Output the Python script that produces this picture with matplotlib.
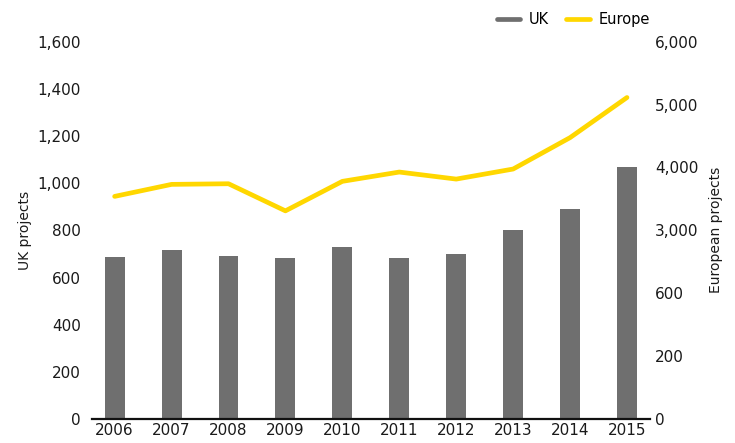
import matplotlib
matplotlib.use("Agg")
import matplotlib.pyplot as plt
from matplotlib.lines import Line2D
import numpy as np

years = ["2006", "2007", "2008", "2009", "2010", "2011", "2012", "2013", "2014", "2015"]
uk_projects = [687, 716, 691, 682, 729, 682, 699, 801, 890, 1068]
europe_projects = [3540, 3731, 3741, 3310, 3779, 3927, 3815, 3975, 4474, 5112]
left_ticks = [0, 200, 400, 600, 800, 1000, 1200, 1400, 1600]
left_labels = ["0", "200", "400", "600", "800", "1,000", "1,200", "1,400", "1,600"]
right_ticks = [0, 1000, 2000, 3000, 4000, 5000, 6000]
right_labels = ["0", "200", "600", "3,000", "4,000", "5,000", "6,000"]

GRAY = "#6f6f6f"
YELLOW = "#FFD700"
TEXT = "#1a1a1a"

plt.rcParams["font.family"] = ["DejaVu Sans"]
fig = plt.figure(figsize=(7.35, 4.43), dpi=100)
ax = fig.add_axes([0.125, 0.054, 0.759, 0.852])
x = np.arange(len(years))
ax.bar(x, uk_projects, width=0.35, color=GRAY, zorder=2)
ax.set_ylim(0, 1600)
ax.set_xlim(-0.4, 9.4)
ax.set_yticks(left_ticks)
ax.set_yticklabels(left_labels, fontsize=11, color=TEXT)
ax.set_xticks(x)
ax.set_xticklabels(years, fontsize=11, color=TEXT)
ax.tick_params(axis="both", length=0)
ax.tick_params(axis="y", pad=8)
ax.tick_params(axis="x", pad=3)
for s in ["top", "right", "left"]:
    ax.spines[s].set_visible(False)
ax.spines["bottom"].set_linewidth(1.6)
ax.spines["bottom"].set_color("#111111")
ax.set_ylabel("UK projects", fontsize=10, color=TEXT, labelpad=4)

ax2 = ax.twinx()
ax2.plot(x, europe_projects, color=YELLOW, linewidth=3.4, solid_capstyle="round", zorder=3)
ax2.set_ylim(0, 6000)
ax2.set_yticks(right_ticks)
ax2.set_yticklabels(right_labels, fontsize=11, color=TEXT)
ax2.tick_params(axis="y", length=0, pad=4)
for s in ["top", "right", "left", "bottom"]:
    ax2.spines[s].set_visible(False)
ax2.set_ylabel("European projects", fontsize=10, color=TEXT, labelpad=7)

handles = [Line2D([0], [0], color=GRAY, lw=3.4, solid_capstyle="round"),
           Line2D([0], [0], color=YELLOW, lw=3.4, solid_capstyle="round")]
fig.legend(handles, ["UK", "Europe"], loc="center", bbox_to_anchor=(0.78, 0.955),
           ncol=2, frameon=False, fontsize=10.5, handlelength=1.6, handletextpad=0.6,
           columnspacing=1.2)

fig.savefig("out.png", dpi=100)
